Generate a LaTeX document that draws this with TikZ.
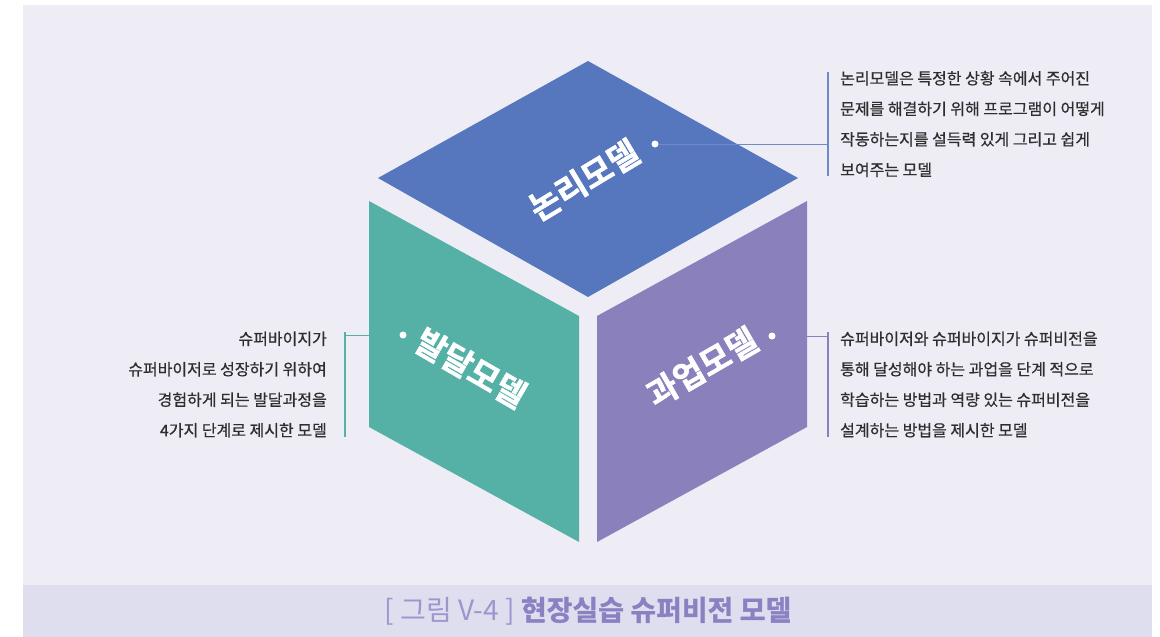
\documentclass[tikz,border=0pt]{standalone}
\usepackage{fontspec}
\setmainfont{Noto Sans CJK KR}
\newfontfamily\bodyfont[FakeBold=0.6]{Noto Sans CJK KR}
\newfontfamily\heavyfont[FakeBold=1.4]{Noto Sans CJK KR Bold}
\definecolor{panelbg}{HTML}{EEEDF6}
\definecolor{capbg}{HTML}{DFDEEE}
\definecolor{logicblue}{HTML}{5677BD}
\definecolor{devteal}{HTML}{55B0A6}
\definecolor{taskpurple}{HTML}{8980BC}
\definecolor{captext}{HTML}{8A81C2}
\definecolor{caplight}{HTML}{9C96CE}
\definecolor{bodytext}{HTML}{2E2E2E}
\usetikzlibrary{positioning}

\begin{document}
\begin{tikzpicture}[x=1pt,y=-1pt,
    facelabel/.style={text=white, font=\heavyfont\fontsize{33}{33}\selectfont, inner sep=0pt},
    dot/.style={circle, fill=white, inner sep=0pt, minimum size=7pt},
    bodyblock/.style={text=bodytext, font=\bodyfont\fontsize{16}{30.5}\selectfont, inner sep=0pt},
    leader/.style={line width=1pt},
    bar/.style={line width=2pt}
]
    \useasboundingbox (0,0) rectangle (1160,637);

    % panel and caption strip
    \fill[panelbg] (23,5) rectangle (1152,637);
    \fill[capbg] (23,585) rectangle (1152,637);

    % cube faces
    \fill[logicblue] (588,61) -- (798,178) -- (588,297) -- (378,178) -- cycle;
    \fill[devteal] (369,201) -- (579,316) -- (579,542) -- (369,427) -- cycle;
    \fill[taskpurple] (597,316) -- (807,201) -- (807,427) -- (597,542) -- cycle;

    % face labels
    \node[facelabel, rotate=31] (logic) at (584,180) {논리모델};
    \node[facelabel, rotate=-30] (dev) at (471,368) {발달모델};
    \node[facelabel, rotate=30] (task) at (702,367) {과업모델};

    % logic model callout
    \node[dot] (logicdot) at (655,144) {};
    \coordinate (logicbar) at (828,124);
    \draw[leader, logicblue!85] (logicdot) -- (logicdot -| logicbar);
    \draw[bar, logicblue!85] (logicbar) ++(0,-52) -- ++(0,104);
    \node[bodyblock, align=left, right=12pt of logicbar] (logictext)
        {논리모델은 특정한 상황 속에서 주어진\\문제를 해결하기 위해 프로그램이 어떻게\\작동하는지를 설득력 있게 그리고 쉽게\\보여주는 모델};

    % developmental model callout
    \node[dot] (devdot) at (403,335) {};
    \coordinate (devbar) at (345,384.5);
    \draw[leader, devteal] (devdot) -- (devdot -| devbar);
    \draw[bar, devteal] (devbar) ++(0,-52.5) -- ++(0,105);
    \node[bodyblock, align=right, left=18pt of devbar] (devtext)
        {슈퍼바이지가\\슈퍼바이저로 성장하기 위하여\\경험하게 되는 발달과정을\\4가지 단계로 제시한 모델};

    % task model callout
    \node[dot] (taskdot) at (772,336) {};
    \coordinate (taskbar) at (828,384.5);
    \draw[leader, taskpurple] (taskdot) -- (taskdot -| taskbar);
    \draw[bar, taskpurple] (taskbar) ++(0,-52.5) -- ++(0,105);
    \node[bodyblock, align=left, right=12pt of taskbar] (tasktext)
        {슈퍼바이저와 슈퍼바이지가 슈퍼비전을\\통해 달성해야 하는 과업을 단계 적으로\\학습하는 방법과 역량 있는 슈퍼비전을\\설계하는 방법을 제시한 모델};

    % caption
    \node[font=\fontsize{28}{28}\selectfont, inner sep=0pt] (caption) at (588,611)
        {{\color{caplight}[ 그림 V-4 ]} {\color{captext}\heavyfont 현장실습 슈퍼비전 모델}};
\end{tikzpicture}
\end{document}
